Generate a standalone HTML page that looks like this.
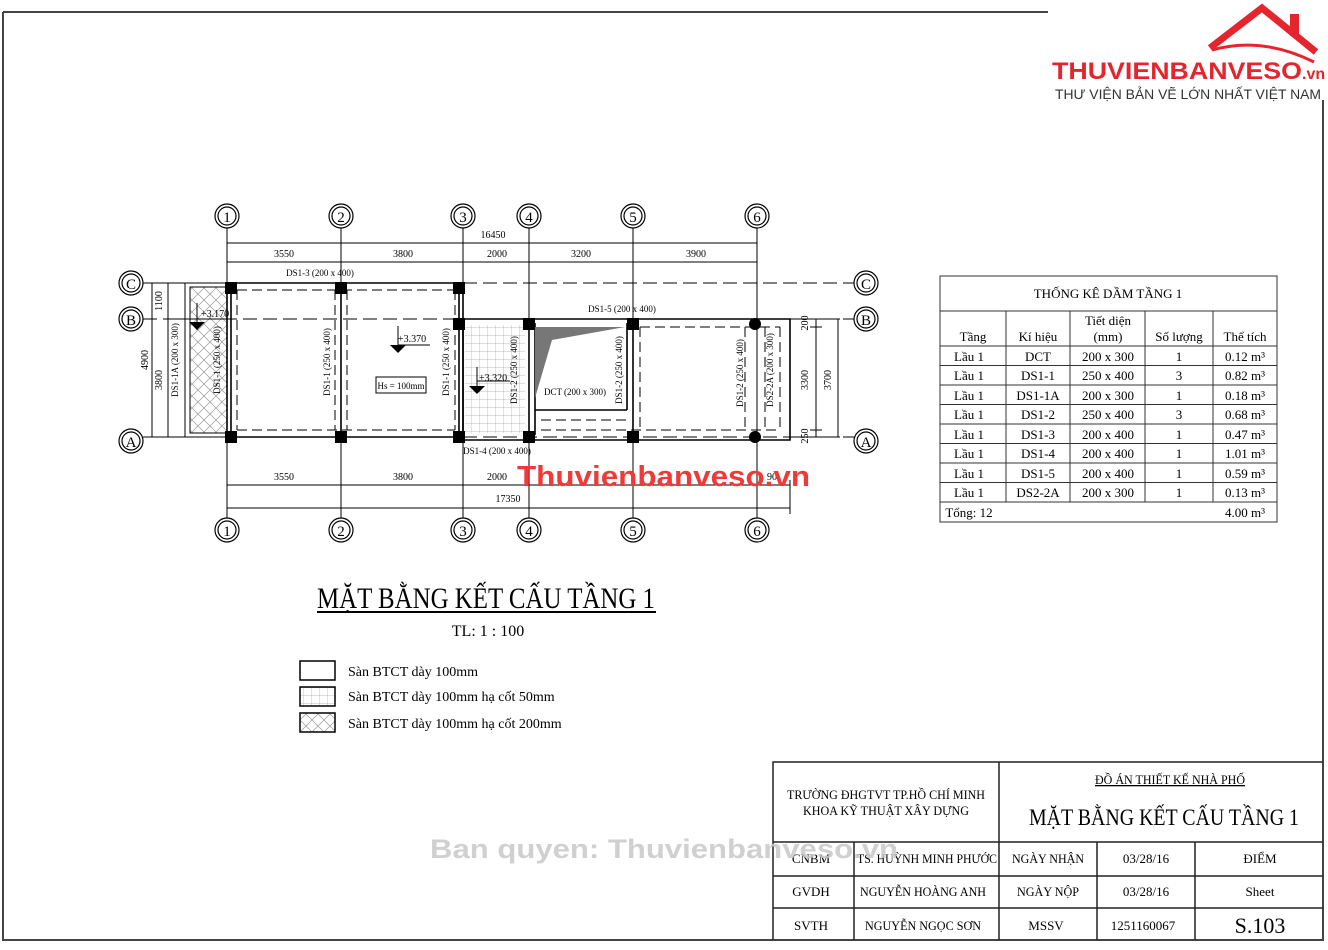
<!DOCTYPE html>
<html><head><meta charset="utf-8"><style>
html,body{margin:0;padding:0;background:#fff;}
svg{display:block;font-family:"Liberation Serif",serif;}
</style></head><body>
<svg width="1328" height="950" viewBox="0 0 1328 950" xmlns="http://www.w3.org/2000/svg">
<defs>
<pattern id="grid" width="8" height="8" patternUnits="userSpaceOnUse"><path d="M8 0V8M0 8H8" stroke="#aaa" stroke-width="0.7" fill="none"/></pattern>
<pattern id="cross" width="12" height="12" patternUnits="userSpaceOnUse"><path d="M0 0L12 12M12 0L0 12" stroke="#999" stroke-width="0.7" fill="none"/></pattern>
<g id="bub"><circle r="12" fill="#fff" stroke="#000" stroke-width="1.2"/><circle r="9" fill="none" stroke="#000" stroke-width="1.2"/></g>
</defs>
<!-- page border -->
<g stroke="#444" stroke-width="2" fill="none">
<path d="M3 12H1048M3 12V940H1323V100"/>
</g>
<!-- logo -->
<path d="M1210 48 L1262 8 L1316 52" stroke="#e5252e" stroke-width="7" fill="none" stroke-linejoin="miter"/>
<rect x="1290" y="14" width="9" height="22" fill="#e5252e"/>
<path d="M1212 50 Q1262 36 1314 62" stroke="#e5252e" stroke-width="3" fill="none"/>
<text x="1052" y="79" font-family="Liberation Sans,sans-serif" font-weight="bold" font-size="24" fill="#e5252e" textLength="250" lengthAdjust="spacingAndGlyphs">THUVIENBANVESO</text>
<text x="1302" y="79" font-family="Liberation Sans,sans-serif" font-weight="bold" font-size="16" fill="#e5252e">.vn</text>
<text x="1055" y="99" font-family="Liberation Sans,sans-serif" font-size="13.5" fill="#333" textLength="266" lengthAdjust="spacingAndGlyphs">THƯ VIỆN BẢN VẼ LỚN NHẤT VIỆT NAM</text>

<!-- grid lines -->
<g stroke="#000" stroke-width="1" fill="none">
<path d="M227 228V520M341 228V520M463 228V520M529 228V520M633 228V520M757 228V520"/>
<path d="M143 283H854M143 319H854M143 437H854" stroke-dasharray="14 6"/>
</g>
<g stroke="#000" stroke-width="1">
<path d="M227 243H757M227 262H757M152 283V437M168 283V437M152 437H190M152 283H190M168 319H190"/>
<path d="M227 485H790M227 508H790M790 480V514"/>
<path d="M790 319H840M790 437H840M816 319V437M838 319V437M810 327H822M810 430H822"/>
</g>
<g font-size="10" text-anchor="middle">
<text x="493" y="238">16450</text>
<text x="284" y="257">3550</text><text x="403" y="257">3800</text><text x="497" y="257">2000</text><text x="581" y="257">3200</text><text x="696" y="257">3900</text>
<text x="284" y="480">3550</text><text x="403" y="480">3800</text><text x="497" y="480">2000</text><text x="772" y="480">90</text>
<text x="508" y="502">17350</text>
<text transform="translate(148,360) rotate(-90)">4900</text>
<text transform="translate(162,380) rotate(-90)">3800</text>
<text transform="translate(162,301) rotate(-90)">1100</text>
<text transform="translate(808,323) rotate(-90)">200</text>
<text transform="translate(808,380) rotate(-90)">3300</text>
<text transform="translate(808,436) rotate(-90)">250</text>
<text transform="translate(831,380) rotate(-90)">3700</text>
</g>
<!-- slabs -->
<rect x="190" y="287" width="37" height="146" fill="url(#cross)" stroke="#000" stroke-width="1"/>
<rect x="185" y="283" width="42" height="154" fill="none" stroke="#000" stroke-width="1"/>
<rect x="465" y="325" width="60" height="108" fill="url(#grid)"/>
<g stroke="#000" stroke-width="1.6" fill="none">
<path d="M227 283H463V437H227Z"/>
<path d="M463 319H790V440H463Z"/>
<path d="M231 286V435M341 286V435M459 286V435M529 323V435M535 323V435M633 323V435M627 323V410M535 410H627"/>
</g>
<g stroke="#000" stroke-width="1" fill="none" stroke-dasharray="10 5">
<path d="M237 290H455M237 430H455M237 290V430M455 290V430M335 290V430M347 290V430"/>
<path d="M541 430H780M640 327H780M640 327V430M745 327V430M765 327V430M780 327V430M541 420H627"/>
</g>
<polygon points="535,327 625,327 552,340 535,398" fill="#777"/>
<!-- columns -->
<g fill="#000">
<rect x="225" y="282" width="12" height="12"/><rect x="335" y="282" width="12" height="12"/><rect x="453" y="282" width="12" height="12"/>
<rect x="453" y="318" width="12" height="12"/><rect x="523" y="318" width="12" height="12"/><rect x="627" y="318" width="12" height="12"/>
<circle cx="755" cy="324" r="6"/>
<rect x="225" y="431" width="12" height="12"/><rect x="335" y="431" width="12" height="12"/><rect x="453" y="431" width="12" height="12"/>
<rect x="523" y="431" width="12" height="12"/><rect x="627" y="431" width="12" height="12"/><circle cx="755" cy="437" r="6"/>
</g>
<g font-size="9" text-anchor="middle">
<text x="320" y="276">DS1-3 (200 x 400)</text>
<text x="622" y="312">DS1-5 (200 x 400)</text>
<text x="497" y="454">DS1-4 (200 x 400)</text>
<text x="575" y="395">DCT (200 x 300)</text>
<text transform="translate(178,360) rotate(-90)">DS1-1A (200 x 300)</text>
<text transform="translate(220,360) rotate(-90)">DS1-1 (250 x 400)</text>
<text transform="translate(330,362) rotate(-90)">DS1-1 (250 x 400)</text>
<text transform="translate(449,362) rotate(-90)">DS1-1 (250 x 400)</text>
<text transform="translate(517,370) rotate(-90)">DS1-2 (250 x 400)</text>
<text transform="translate(622,370) rotate(-90)">DS1-2 (250 x 400)</text>
<text transform="translate(743,373) rotate(-90)">DS1-2 (250 x 400)</text>
<text transform="translate(773,370) rotate(-90)">DS2-2A (200 x 300)</text>
</g>
<g stroke="#000" stroke-width="1" fill="none">
<path d="M197 303V330M197 319H232"/><path d="M398 326V352M398 345H430"/><path d="M477 367V393M477 381H510"/>
</g>
<g fill="#000"><polygon points="189,322 205,322 197,330"/><polygon points="390,345 406,345 398,353"/><polygon points="469,386 485,386 477,394"/></g>
<g font-size="10"><text x="201" y="317">+3.170</text><text x="398" y="342">+3.370</text><text x="479" y="381">+3.320</text></g>
<rect x="376" y="377" width="50" height="16" fill="#fff" stroke="#000"/>
<text x="401" y="389" font-size="9" text-anchor="middle">Hs = 100mm</text>
<g font-size="15" text-anchor="middle">
<use href="#bub" x="227" y="216"/><text x="227" y="222">1</text>
<use href="#bub" x="341" y="216"/><text x="341" y="222">2</text>
<use href="#bub" x="463" y="216"/><text x="463" y="222">3</text>
<use href="#bub" x="529" y="216"/><text x="529" y="222">4</text>
<use href="#bub" x="633" y="216"/><text x="633" y="222">5</text>
<use href="#bub" x="757" y="216"/><text x="757" y="222">6</text>
<use href="#bub" x="227" y="530"/><text x="227" y="536">1</text>
<use href="#bub" x="341" y="530"/><text x="341" y="536">2</text>
<use href="#bub" x="463" y="530"/><text x="463" y="536">3</text>
<use href="#bub" x="529" y="530"/><text x="529" y="536">4</text>
<use href="#bub" x="633" y="530"/><text x="633" y="536">5</text>
<use href="#bub" x="757" y="530"/><text x="757" y="536">6</text>
<use href="#bub" x="131" y="283"/><text x="131" y="289">C</text>
<use href="#bub" x="131" y="319"/><text x="131" y="325">B</text>
<use href="#bub" x="131" y="441"/><text x="131" y="447">A</text>
<use href="#bub" x="866" y="283"/><text x="866" y="289">C</text>
<use href="#bub" x="866" y="319"/><text x="866" y="325">B</text>
<use href="#bub" x="866" y="441"/><text x="866" y="447">A</text>
</g>
<text x="517" y="486" font-family="Liberation Sans,sans-serif" font-weight="bold" font-size="29" fill="#f03a3a" textLength="293" lengthAdjust="spacingAndGlyphs">Thuvienbanveso.vn</text>

<text x="486" y="608" font-size="30" text-anchor="middle" textLength="338" lengthAdjust="spacingAndGlyphs">MẶT BẰNG KẾT CẤU TẦNG 1</text>
<path d="M317 612H656" stroke="#000" stroke-width="2"/>
<text x="488" y="636" font-size="16" text-anchor="middle">TL: 1 : 100</text>
<rect x="300" y="661" width="35" height="19" fill="#fff" stroke="#000" stroke-width="1.5"/>
<rect x="300" y="687" width="35" height="19" fill="url(#grid)" stroke="#000" stroke-width="1.5"/>
<rect x="300" y="713" width="35" height="19" fill="url(#cross)" stroke="#000" stroke-width="1.5"/>
<g font-size="14"><text x="348" y="676">Sàn BTCT dày 100mm</text><text x="348" y="701">Sàn BTCT dày 100mm hạ cốt 50mm</text><text x="348" y="728">Sàn BTCT dày 100mm hạ cốt 200mm</text></g>

<g stroke="#333" stroke-width="1" fill="none">
<rect x="940" y="276" width="337" height="246"/>
<path d="M940 311H1277M940 346H1277M940 365.5H1277M940 385H1277M940 404.5H1277M940 424H1277M940 443.5H1277M940 463H1277M940 482.5H1277M940 502H1277"/>
<path d="M1006 311V502M1070 311V502M1145 311V502M1213 311V502"/>
</g>
<g font-size="13" text-anchor="middle">
<text x="1108" y="298">THỐNG KÊ DẦM TẦNG 1</text>
<text x="973" y="341">Tầng</text><text x="1038" y="341">Kí hiệu</text><text x="1108" y="325">Tiết diện</text><text x="1108" y="341">(mm)</text><text x="1179" y="341">Số lượng</text><text x="1245" y="341">Thể tích</text>
<text x="969" y="361">Lầu 1</text><text x="1038" y="361">DCT</text><text x="1108" y="361">200 x 300</text><text x="1179" y="361">1</text><text x="1245" y="361">0.12 m³</text>
<text x="969" y="380">Lầu 1</text><text x="1038" y="380">DS1-1</text><text x="1108" y="380">250 x 400</text><text x="1179" y="380">3</text><text x="1245" y="380">0.82 m³</text>
<text x="969" y="400">Lầu 1</text><text x="1038" y="400">DS1-1A</text><text x="1108" y="400">200 x 300</text><text x="1179" y="400">1</text><text x="1245" y="400">0.18 m³</text>
<text x="969" y="419">Lầu 1</text><text x="1038" y="419">DS1-2</text><text x="1108" y="419">250 x 400</text><text x="1179" y="419">3</text><text x="1245" y="419">0.68 m³</text>
<text x="969" y="439">Lầu 1</text><text x="1038" y="439">DS1-3</text><text x="1108" y="439">200 x 400</text><text x="1179" y="439">1</text><text x="1245" y="439">0.47 m³</text>
<text x="969" y="458">Lầu 1</text><text x="1038" y="458">DS1-4</text><text x="1108" y="458">200 x 400</text><text x="1179" y="458">1</text><text x="1245" y="458">1.01 m³</text>
<text x="969" y="478">Lầu 1</text><text x="1038" y="478">DS1-5</text><text x="1108" y="478">200 x 400</text><text x="1179" y="478">1</text><text x="1245" y="478">0.59 m³</text>
<text x="969" y="497">Lầu 1</text><text x="1038" y="497">DS2-2A</text><text x="1108" y="497">200 x 300</text><text x="1179" y="497">1</text><text x="1245" y="497">0.13 m³</text>
<text x="969" y="517">Tổng: 12</text><text x="1245" y="517">4.00 m³</text>
</g>

<g stroke="#222" stroke-width="1.5" fill="none">
<path d="M773 940V762H1323"/>
<path d="M999 762V940M773 842H1323M773 876H1323M773 908H1323M854 842V940M1097 842V940M1195 842V940"/>
</g>
<g font-size="13" text-anchor="middle">
<text x="886" y="799" textLength="198" lengthAdjust="spacingAndGlyphs">TRƯỜNG ĐHGTVT TP.HỒ CHÍ MINH</text>
<text x="886" y="815" textLength="166" lengthAdjust="spacingAndGlyphs">KHOA KỸ THUẬT XÂY DỰNG</text>
<text x="1170" y="784" text-decoration="underline" textLength="150" lengthAdjust="spacingAndGlyphs">ĐỒ ÁN THIẾT KẾ NHÀ PHỐ</text>
<text x="1164" y="825" font-size="23" textLength="270" lengthAdjust="spacingAndGlyphs">MẶT BẰNG KẾT CẤU TẦNG 1</text>
<text x="811" y="863">CNBM</text><text x="927" y="863" textLength="140" lengthAdjust="spacingAndGlyphs">TS. HUỲNH MINH PHƯỚC</text><text x="1048" y="863" textLength="72" lengthAdjust="spacingAndGlyphs">NGÀY NHẬN</text><text x="1146" y="863">03/28/16</text><text x="1260" y="863">ĐIỂM</text>
<text x="811" y="896">GVDH</text><text x="923" y="896" textLength="126" lengthAdjust="spacingAndGlyphs">NGUYỄN HOÀNG ANH</text><text x="1048" y="896" textLength="62" lengthAdjust="spacingAndGlyphs">NGÀY NỘP</text><text x="1146" y="896">03/28/16</text><text x="1260" y="896">Sheet</text>
<text x="811" y="930">SVTH</text><text x="923" y="930" textLength="116" lengthAdjust="spacingAndGlyphs">NGUYỄN NGỌC SƠN</text><text x="1046" y="930">MSSV</text><text x="1143" y="930">1251160067</text><text x="1260" y="933" font-size="22">S.103</text>
</g>
<text x="430" y="858" font-family="Liberation Sans,sans-serif" font-weight="bold" font-size="27" fill="#c8c8c8" fill-opacity="0.85" textLength="468" lengthAdjust="spacingAndGlyphs">Ban quyen: Thuvienbanveso.vn</text>
</svg>
</body></html>
